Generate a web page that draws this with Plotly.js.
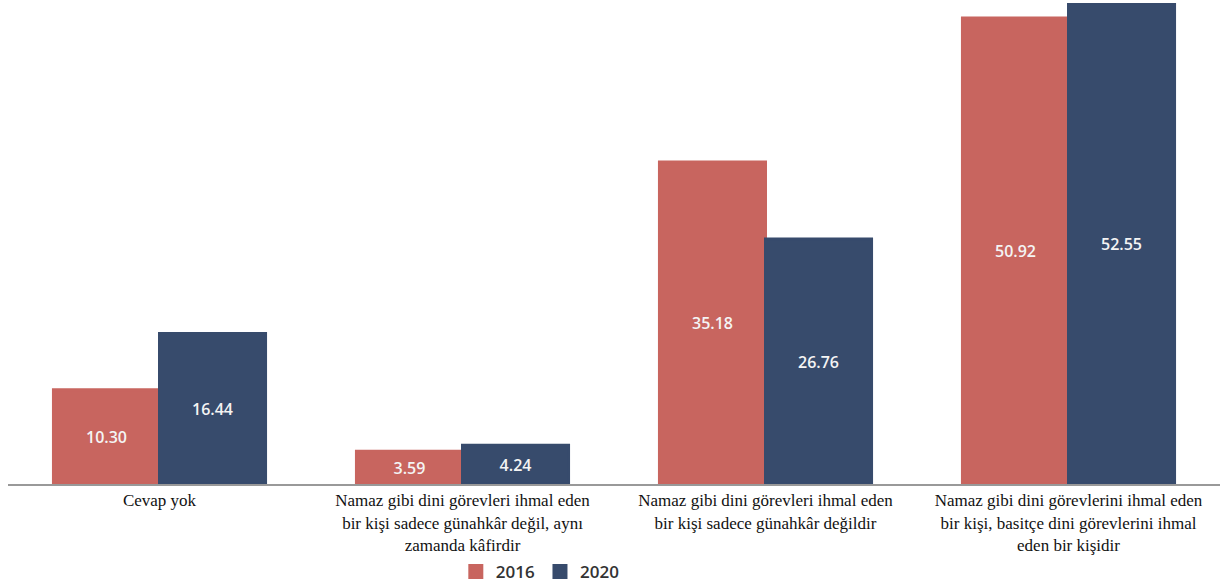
<!DOCTYPE html>
<html>
<head>
<meta charset="utf-8">
<script src="https://cdn.plot.ly/plotly-3.0.1.min.js"></script>
<style>
html,body{margin:0;padding:0;background:#fff;}
#chart{width:1228px;height:586px;}
</style>
</head>
<body>
<div id="chart"></div>
<script>
var categories = [
  "Cevap yok",
  "Namaz gibi dini görevleri ihmal eden<br>bir kişi sadece günahkâr değil, aynı<br>zamanda kâfirdir",
  "Namaz gibi dini görevleri ihmal eden<br>bir kişi sadece günahkâr değildir",
  "Namaz gibi dini görevlerini ihmal eden<br>bir kişi, basitçe dini görevlerini ihmal<br>eden bir kişidir"
];
var values2016 = [10.30, 3.59, 35.18, 50.92];
var values2020 = [16.44, 4.24, 26.76, 52.55];
var seriesNames = ["2016", "2020"];
var colors = ["#C8655F", "#374B6C"];

function mk(name, vals, color) {
  return {
    type: "bar",
    name: name,
    x: categories,
    y: vals,
    text: vals.map(function(v){ return v.toFixed(2); }),
    textposition: "inside",
    insidetextanchor: "middle",
    textangle: 0,
    textfont: {family: "Open Sans", size: 16, color: "#f4f4f4", weight: 600},
    marker: {color: color, line: {color: color, width: 3}},
    hoverinfo: "none"
  };
}

var data = [mk(seriesNames[0], values2016, colors[0]), mk(seriesNames[1], values2020, colors[1])];

var layout = {
  width: 1228, height: 586,
  margin: {l: 8, r: 8, t: 3, b: 102},
  paper_bgcolor: "#fff", plot_bgcolor: "#fff",
  barmode: "group",
  bargap: 0.3,
  bargroupgap: 0,
  showlegend: true,
  legend: {
    orientation: "h",
    xref: "container", yref: "container",
    x: 0.44, xanchor: "center",
    y: 0.024, yanchor: "middle",
    font: {family: "Open Sans", size: 17, color: "#333", weight: 600},
    itemwidth: 30,
    tracegroupgap: 0
  },
  xaxis: {
    showline: true, linecolor: "#999", linewidth: 2,
    ticks: "", showgrid: false, zeroline: false, automargin: false,
    tickfont: {family: "Liberation Serif, Times New Roman, DejaVu Serif, serif", size: 17, color: "#111"}
  },
  yaxis: {
    range: [0, 52.55], visible: false, showgrid: false, zeroline: false
  },
  font: {family: "Liberation Serif"}
};

Plotly.newPlot("chart", data, layout, {displayModeBar: false, staticPlot: true});
</script>
</body>
</html>
